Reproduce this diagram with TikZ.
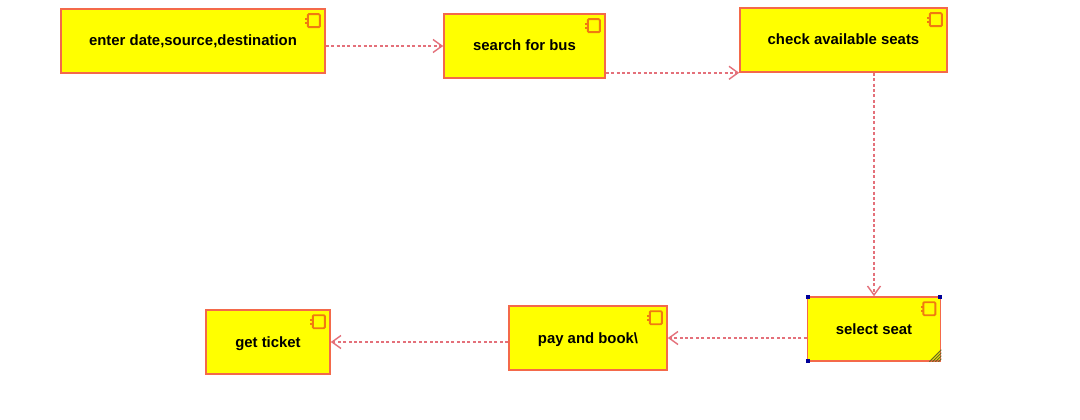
\documentclass[tikz,border=0pt]{standalone}
\usepackage{fontspec}
\setmainfont{Liberation Sans}
\usetikzlibrary{arrows.meta,calc}
\definecolor{boxedge}{HTML}{F4694A}
\definecolor{flow}{HTML}{E4707A}
\definecolor{boxfill}{HTML}{FFFF00}
\definecolor{iconedge}{HTML}{F07A10}
\newcommand{\lbl}[1]{\raisebox{-5pt}[0pt][0pt]{#1}}
\tikzset{
  x=1pt,y=-1pt,
  comp/.style={draw=boxedge,fill=boxfill,line width=1.6pt,inner sep=0pt,minimum height=64pt,
    font=\bfseries\fontsize{14.9}{17}\selectfont,text=black},
  flowline/.style={draw=flow,line width=1.9pt,dash pattern=on 3pt off 2.4pt,
    -{Straight Barb[length=9pt,width=13pt,line width=1.4pt]}},
  iconline/.style={draw=iconedge,line width=1.9pt},
  handle/.style={fill=blue!60!black,draw=none}
}
\newcommand{\compicon}[1]{%
  \draw[iconline,rounded corners=1pt] ($(#1.north east)+(-18,6)$) rectangle ($(#1.north east)+(-6,19)$);
  \fill[iconedge] ($(#1.north east)+(-20.5,9.5)$) rectangle ($(#1.north east)+(-17,12)$);
  \fill[iconedge] ($(#1.north east)+(-20.5,13.5)$) rectangle ($(#1.north east)+(-17,16)$);
}
\begin{document}
\begin{tikzpicture}
\useasboundingbox (0,0) rectangle (1080,420);
\fill[white] (0,0) rectangle (1080,420);
\node[comp,minimum width=264pt] (a) at (193,41) {\lbl{enter date,source,destination}};
\node[comp,minimum width=161pt] (b) at (524.5,46) {\lbl{search for bus}};
\node[comp,minimum width=207pt] (c) at (843.5,40) {\lbl{check available seats}};
\node[comp,minimum width=133pt] (d) at (874,329) {\lbl{select seat}};
\node[comp,minimum width=158pt] (e) at (588,338) {\lbl{pay and book\textbackslash}};
\node[comp,minimum width=124pt] (f) at (268,342) {\lbl{get ticket}};
\compicon{a}\compicon{b}\compicon{c}\compicon{d}\compicon{e}\compicon{f}
\draw[flowline] (a.east |- b.west) -- (b.west);
\draw[flowline] (b.east |- c.south west) -- (c.south west);
\draw[flowline] (d.north |- c.south) -- (d.north);
\draw[flowline] (d.west |- e.east) -- (e.east);
\draw[flowline] (e.west |- f.east) -- (f.east);
\fill[handle] ($(d.north west)+(-1,-1)$) rectangle ($(d.north west)+(3,3)$);
\fill[handle] ($(d.north east)+(-3,-1)$) rectangle ($(d.north east)+(1,3)$);
\fill[handle] ($(d.south west)+(-1,-3)$) rectangle ($(d.south west)+(3,1)$);
\begin{scope}
\clip (d.south east) -- ++(-14,0) -- ++(14,-14) -- cycle;
\foreach \k in {3,6,9,12}{
  \draw[draw=olive!70!black,line width=1.2pt] ($(d.south east)+(-\k,0)$) -- ($(d.south east)+(0,-\k)$);
}
\end{scope}
\end{tikzpicture}
\end{document}
